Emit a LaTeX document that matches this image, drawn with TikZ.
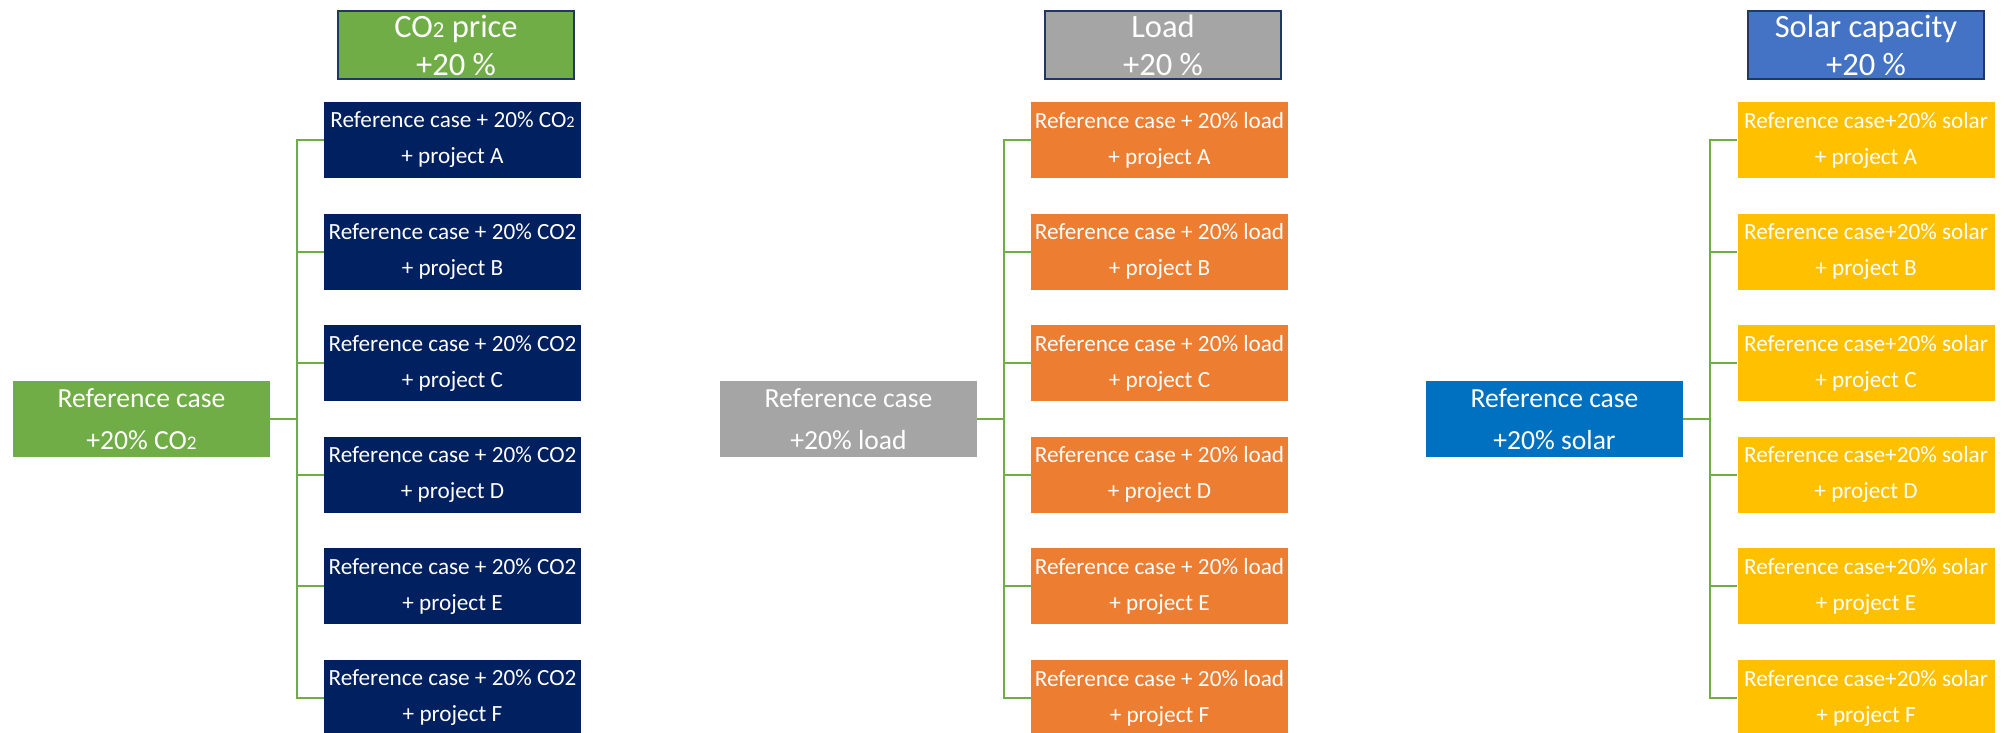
\documentclass[tikz,border=0pt]{standalone}
\usepackage{fontspec}
\setmainfont{Carlito}
\usepackage{graphicx}
\definecolor{navy}{HTML}{002060}
\definecolor{lgreen}{HTML}{70AD47}
\definecolor{mgray}{HTML}{A5A5A5}
\definecolor{orng}{HTML}{ED7D31}
\definecolor{yell}{HTML}{FFC000}
\definecolor{hblue}{HTML}{4472C4}
\definecolor{rblue}{HTML}{0070C0}
\definecolor{outl}{HTML}{1F3864}
\newcommand{\cotwo}{CO\scalebox{0.7}{2}}
\begin{document}
\begin{tikzpicture}[x=0.75pt,y=-0.75pt,
  box/.style={rectangle, inner sep=0pt, text=white, align=center},
  kid/.style={box, minimum width=192.75pt, minimum height=57pt, font=\fontsize{17.4}{27}\selectfont},
  refb/.style={box, minimum width=192.75pt, minimum height=57pt, font=\fontsize{20.7}{31.5}\selectfont},
  head/.style={box, minimum width=177pt, minimum height=51pt, draw=outl, line width=1.5pt, font=\fontsize{24.4}{28.5}\selectfont},
  conn/.style={draw=lgreen, line width=1.4pt},
  stub/.style={draw=lgreen, line width=2pt}]
\useasboundingbox (0,0) rectangle (2009,732);
\clip (0,0) rectangle (2009,732);

% ---------- column 1: CO2 ----------
\node[head, fill=lgreen] (hA) at (456,45) {\cotwo{} price\\+20 \%};
\node[kid, fill=navy] (aA) at (452.5,140) {Reference case + 20\% \cotwo\\+ project A};
\foreach \l [count=\i from 1] in {B,C,D,E,F}
  \node[kid, fill=navy] (a\l) at (452.5,140+111.6*\i) {Reference case + 20\% CO2\\+ project \l};
\node[refb, fill=lgreen] (rA) at (141.5,419) {Reference case\\+20\% \cotwo};
\path (aA.west) ++(-27,0) coordinate (tA);
\draw[conn] (aA.west) -- (tA) |- (aF.west);
\foreach \l in {B,C,D,E}
  \draw[conn] (a\l.west) -- (a\l.west -| tA);
\draw[stub] (rA.east) -- (rA.east -| tA);

% ---------- column 2: load ----------
\node[head, fill=mgray] (hB) at (1163,45) {Load\\+20 \%};
\foreach \l [count=\i from 0] in {A,B,C,D,E,F}
  \node[kid, fill=orng] (b\l) at (1159.5,140+111.6*\i) {Reference case + 20\% load\\+ project \l};
\node[refb, fill=mgray] (rB) at (848.5,419) {Reference case\\+20\% load};
\path (bA.west) ++(-27,0) coordinate (tB);
\draw[conn] (bA.west) -- (tB) |- (bF.west);
\foreach \l in {B,C,D,E}
  \draw[conn] (b\l.west) -- (b\l.west -| tB);
\draw[stub] (rB.east) -- (rB.east -| tB);

% ---------- column 3: solar ----------
\node[head, fill=hblue] (hC) at (1866,45) {Solar capacity\\+20 \%};
\foreach \l [count=\i from 0] in {A,B,C,D,E,F}
  \node[kid, fill=yell] (c\l) at (1866,140+111.6*\i) {Reference case+20\% solar\\+ project \l};
\node[refb, fill=rblue] (rC) at (1554.5,419) {Reference case\\+20\% solar};
\path (cA.west) ++(-27.5,0) coordinate (tC);
\draw[conn] (cA.west) -- (tC) |- (cF.west);
\foreach \l in {B,C,D,E}
  \draw[conn] (c\l.west) -- (c\l.west -| tC);
\draw[stub] (rC.east) -- (rC.east -| tC);
\end{tikzpicture}
\end{document}
